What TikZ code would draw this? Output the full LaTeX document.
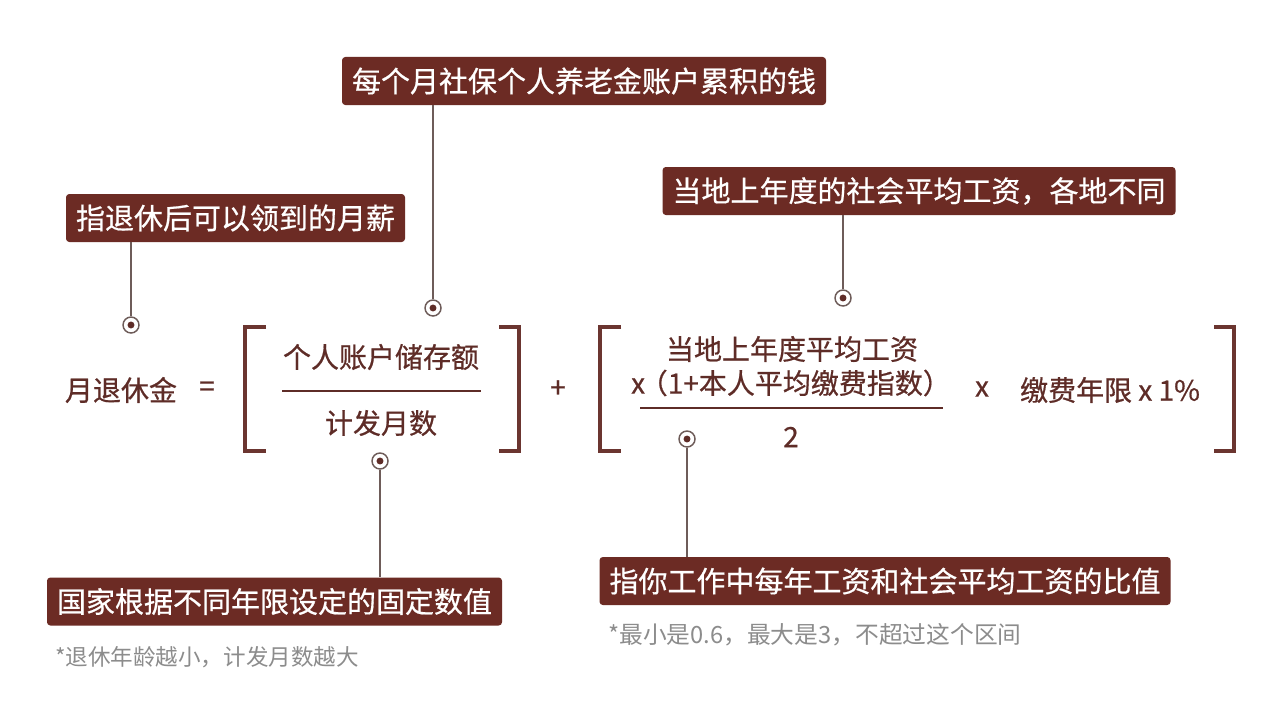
\documentclass[tikz,border=0pt]{standalone}
\usepackage{fontspec}
\setmainfont{Noto Sans CJK SC}
\newfontfamily\medfont[FakeBold=0.6]{Noto Sans CJK SC}
\definecolor{boxred}{HTML}{6C2B24}
\definecolor{txtbrown}{HTML}{5E2C27}
\definecolor{brk}{HTML}{6B3530}
\definecolor{conn}{HTML}{6E5C59}
\definecolor{note}{HTML}{8C8C8C}
\tikzset{
  tagbox/.style={fill=boxred, text=white, rounded corners=2.5pt, inner xsep=7.5pt, inner ysep=0pt,
    minimum height=36pt, font=\medfont\fontsize{21.75pt}{26pt}\selectfont},
  formula/.style={text=txtbrown, inner sep=0pt, font=\medfont\fontsize{21pt}{25pt}\selectfont},
  notetext/.style={text=note, inner sep=0pt, anchor=west},
  marker/.style={circle, draw=conn, line width=1.1pt, minimum size=12pt, inner sep=0pt,
    path picture={\fill[txtbrown] (path picture bounding box.center) circle (2.6pt);}},
  conline/.style={draw=conn, line width=1.1pt},
  bracket/.style={draw=brk, line width=2.4pt},
  fracline/.style={draw=txtbrown, line width=1.1pt}
}
\begin{document}
\begin{tikzpicture}[x=0.75pt,y=-0.75pt]
\useasboundingbox[fill=white] (0,0) rectangle (1280,724);

% tag boxes
\node[tagbox] (b1) at (584,81) {每个月社保个人养老金账户累积的钱};
\node[tagbox] (b2) at (235.5,218) {指退休后可以领到的月薪};
\node[tagbox] (b3) at (919,191) {当地上年度的社会平均工资，各地不同};
\node[tagbox] (b4) at (274.5,601.5) {国家根据不同年限设定的固定数值};
\node[tagbox] (b5) at (885,581) {指你工作中每年工资和社会平均工资的比值};

% notes
\node[notetext, font=\fontsize{16.9pt}{20pt}\selectfont] (n1) at (55,657) {*退休年龄越小，计发月数越大};
\node[notetext, font=\fontsize{17.8pt}{21pt}\selectfont] (n2) at (608,635) {*最小是0.6，最大是3，不超过这个区间};

% markers
\node[marker] (m1) at (131,325) {};
\node[marker] (m2) at (433,308) {};
\node[marker] (m3) at (843,298) {};
\node[marker] (m4) at (380,461) {};
\node[marker] (m5) at (687,439) {};

% connectors
\draw[conline] (b2.south -| m1) -- (m1.north);
\draw[conline] (b1.south -| m2) -- (m2.north);
\draw[conline] (b3.south -| m3) -- (m3.north);
\draw[conline] (m4.south) -- (b4.north -| m4);
\draw[conline] (m5.south) -- (b5.north -| m5);

% formula
\node[formula] (lhs) at (121,390) {月退休金};
\node[formula] (eq) at (207,389) {=};
\node[formula] (num1) at (381,357) {个人账户储存额};
\node[formula] (den1) at (381,423) {计发月数};
\node[formula] (plus) at (558,389) {+};
\node[formula] (num2a) at (792,349) {当地上年度平均工资};
\node[formula] (num2b) at (791,383) {x\kern-4pt（1+本人平均缴费指数）};
\node[formula] (den2) at (791,437) {2};
\node[formula] (times) at (982,389) {x};
\node[formula] (yrs) at (1110,390) {缴费年限 x 1\%};

% fraction lines
\coordinate (f1a) at (282,391);
\coordinate (f1b) at (481,391);
\draw[fracline] (f1a) -- (f1b);
\coordinate (f2a) at (640,408);
\coordinate (f2b) at (943,408);
\draw[fracline] (f2a) -- (f2b);

% brackets
\draw[bracket] (266,327) -- (245,327) -- (245,451) -- (266,451);
\draw[bracket] (499,327) -- (519,327) -- (519,451) -- (499,451);
\draw[bracket] (621,327) -- (600,327) -- (600,451) -- (621,451);
\draw[bracket] (1214,327) -- (1234,327) -- (1234,451) -- (1214,451);
\end{tikzpicture}
\end{document}
